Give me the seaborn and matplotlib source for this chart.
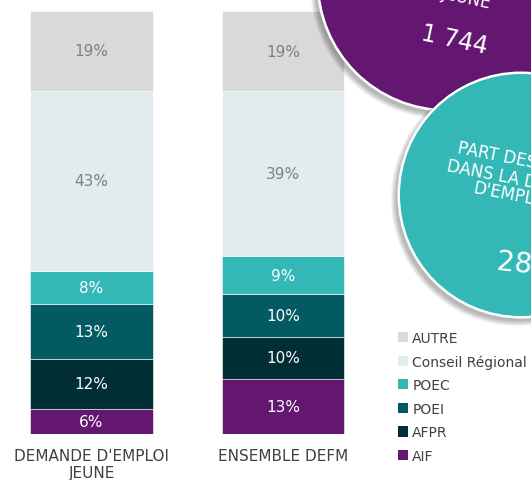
import numpy as np
import pandas as pd
import matplotlib
matplotlib.use("Agg")
import matplotlib.pyplot as plt
import seaborn as sns
from matplotlib.patches import Circle, Patch

# data (bottom to top)
groups = ["DEMANDE D'EMPLOI\nJEUNE", "ENSEMBLE DEFM"]
categories = ["AIF", "AFPR", "POEI", "POEC", "Conseil Régional", "AUTRE"]
demande_jeune = [6, 12, 13, 8, 43, 19]
ensemble_defm = [13, 10, 10, 9, 39, 19]
colors = ["#631770", "#022E35", "#035A62", "#33B8B7", "#E0ECEE", "#D9D9D9"]
label_colors = ["white", "white", "white", "white", "#7F7F7F", "#7F7F7F"]

df = pd.DataFrame([demande_jeune, ensemble_defm], index=groups, columns=categories)
pct = df.div(df.sum(axis=1), axis=0) * 100  # 100% stacked

W, H = 531, 481
fig = plt.figure(figsize=(W / 100, H / 100), dpi=100)
sns.set_style("white")
plt.rcParams["font.family"] = ["DejaVu Sans"]

ax = fig.add_axes([0, (H - 435) / H, 1, 423 / H])
bottoms = np.zeros(len(groups))
for cat, col, lcol, in zip(categories, colors, label_colors):
    sns.barplot(x=groups, y=pct[cat].values, bottom=bottoms, color=col,
                saturation=1, width=0.642, errorbar=None, ax=ax,
                edgecolor="#FFFFFF", linewidth=0.4)
    for i, g in enumerate(groups):
        ax.text(i, bottoms[i] + pct[cat].values[i] / 2, f"{df.loc[g, cat]}%",
                ha="center", va="center", fontsize=11, color=lcol)
    bottoms = bottoms + pct[cat].values

ax.set_ylim(0, 100)
ax.set_xlim(-91.5 / 191.5, (W - 91.5) / 191.5)
ax.set_yticks([])
ax.set_xticks([0, 1])
ax.set_xticklabels(groups, fontsize=11, color="#404040")
ax.tick_params(axis="x", length=0, pad=10)
ax.set_xlabel("")
ax.set_ylabel("")
sns.despine(ax=ax, left=True, bottom=True)

# legend
handles = [Patch(facecolor=c, edgecolor="none") for c in colors[::-1]]
fig.legend(handles, categories[::-1], loc="upper left",
           bbox_to_anchor=(392 / W, 1 - 326 / H), frameon=False,
           fontsize=10, labelcolor="#404040", handlelength=0.75,
           handleheight=0.75, handletextpad=0.3, labelspacing=0.69,
           borderaxespad=0)

# decorative bubbles on an overlay in pixel coordinates
ov = fig.add_axes([0, 0, 1, 1], zorder=5)
ov.set_xlim(0, W)
ov.set_ylim(H, 0)
ov.axis("off")


def bubble(cx, cy, r, color):
    for k in range(6):
        ov.add_patch(Circle((cx - 3, cy + 4), r + 6 - k, facecolor="#000000",
                            alpha=0.05, edgecolor="none"))
    ov.add_patch(Circle((cx, cy), r + 2.5, facecolor="white", edgecolor="none"))
    ov.add_patch(Circle((cx, cy), r, facecolor=color, edgecolor="none"))


bubble(447, -18, 128, "#631770")
ov.text(466, -2, "JEUNE", ha="center", va="center", rotation=-12,
        fontsize=12, color="white")
ov.text(454, 40, "1 744", ha="center", va="center", rotation=-12,
        fontsize=17, color="white")

bubble(521, 196, 121, "#33B8B7")
ov.text(458, 148, "PART DES JEUNES", ha="left", va="center", rotation=-11,
        rotation_mode="anchor", fontsize=12, color="white")
ov.text(447, 166, "DANS LA DEMANDE", ha="left", va="center", rotation=-11,
        rotation_mode="anchor", fontsize=12, color="white")
ov.text(473, 188, "D'EMPLOI", ha="left", va="center", rotation=-11,
        rotation_mode="anchor", fontsize=12, color="white")
ov.text(497, 262, "28%", ha="left", va="center", rotation=-6,
        rotation_mode="anchor", fontsize=20, color="white")

fig.savefig("out.png", dpi=100)
